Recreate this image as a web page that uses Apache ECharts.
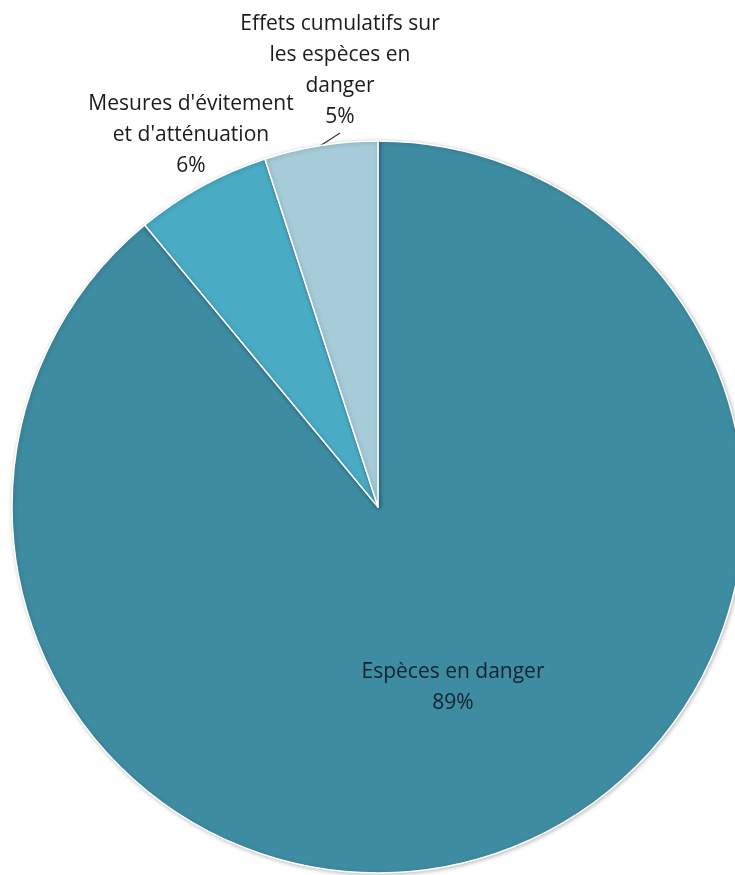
<!DOCTYPE html>
<html>
<head>
<meta charset="utf-8">
<script src="https://cdn.jsdelivr.net/npm/echarts@6/dist/echarts.min.js"></script>
<style>
  html, body { margin: 0; padding: 0; background: #ffffff; }
  #chart { width: 735px; height: 875px; }
</style>
</head>
<body>
<div id="chart"></div>
<script>
// Share of topics (percent), clockwise from 12 o'clock
const categories = [
  'Espèces en danger',
  "Mesures d'évitement\net d'atténuation",
  'Effets cumulatifs sur\nles espèces en\ndanger'
];
const values = [89, 6, 5];
const sliceColors = ['#3e8ca2', '#4aabc5', '#a6ccda'];

// Where the two outer labels sit (label centre, px)
const outerLabelAt = {
  1: { x: 191, y: 135 },
  2: { x: 340, y: 71 }
};

const chart = echarts.init(document.getElementById('chart'));

chart.setOption({
  animation: false,
  series: [{
    type: 'pie',
    center: [378, 507],
    radius: [0, 366],
    startAngle: 90,
    clockwise: true,
    avoidLabelOverlap: false,
    itemStyle: {
      borderColor: '#ffffff',
      borderWidth: 1.5,
      shadowBlur: 4,
      shadowColor: 'rgba(0,0,0,0.25)',
      shadowOffsetX: 1,
      shadowOffsetY: 1
    },
    label: {
      show: true,
      position: 'outside',
      formatter: '{b}\n{d}%',
      fontFamily: 'Open Sans',
      fontSize: 21,
      lineHeight: 31,
      color: '#1b1b1b',
      align: 'center'
    },
    labelLine: {
      show: true,
      length: 6,
      length2: 0,
      lineStyle: { color: '#333333', width: 1.2 }
    },
    labelLayout: function (params) {
      if (params.dataIndex === 0) return { dx: 12, dy: 6 };
      const p = outerLabelAt[params.dataIndex];
      return { x: p.x, y: p.y, align: 'center', verticalAlign: 'middle' };
    },
    data: categories.map(function (name, i) {
      const item = {
        name: name,
        value: values[i],
        itemStyle: { color: sliceColors[i] }
      };
      if (i === 0) {
        item.label = { position: 'inner', color: '#142230', formatter: '{b}\n{d}%' };
        item.labelLine = { show: false };
      }
      if (i === 1) {
        item.labelLine = { show: false };
      }
      return item;
    })
  }]
});
</script>
</body>
</html>
